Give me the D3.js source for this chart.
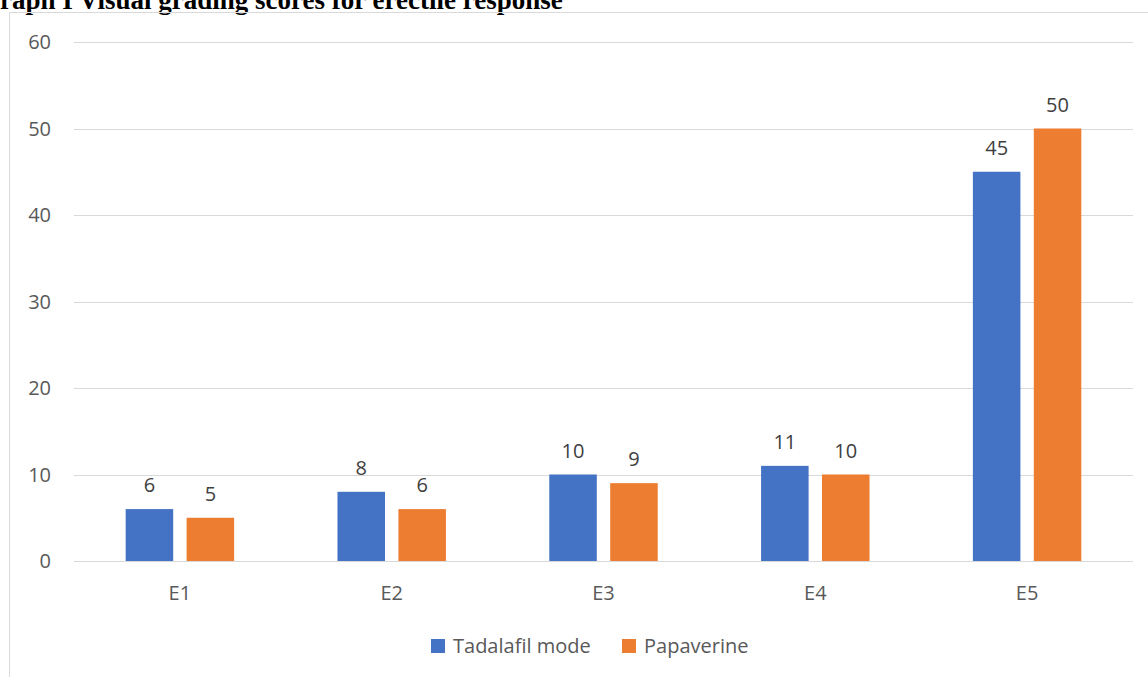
<!DOCTYPE html>
<html>
  <head>
    <title>Graph I</title>
    <script src="https://d3js.org/d3.v7.min.js" charset="utf-8"></script>
    <style>
    body {
        margin: 0;
        background: white;
        font-family: "Open Sans", "Noto Sans", sans-serif;
    }
    svg { display: block; }
    </style>
  </head>

  <body>
    <script>
var categories = ["E1", "E2", "E3", "E4", "E5"];
var seriesNames = ["Tadalafil mode", "Papaverine"];
var tadalafil = [6, 8, 10, 11, 45];
var papaverine = [5, 6, 9, 10, 50];
var yTicks = [0, 10, 20, 30, 40, 50, 60];
var colors = ["#4472c4", "#ed7d31"];

var width = 1148;
var height = 677;

var svg = d3.select("body")
  .append("svg")
  .attr("width", width)
  .attr("height", height);

// title, cut off on the left and top like the scan
svg.append("text")
  .attr("x", -21)
  .attr("y", 9)
  .attr("font-family", "'Liberation Serif', 'Times New Roman', serif")
  .attr("font-weight", "bold")
  .attr("font-size", 27)
  .attr("fill", "#000")
  .text("Graph I Visual grading scores for erectile response");

// chart area frame
svg.append("path")
  .attr("d", "M9.5," + height + "V12.5H" + width)
  .attr("fill", "none")
  .attr("stroke", "#d9d9d9");

var plotLeft = 74, plotRight = 1133, plotTop = 42, plotBottom = 561;

var y = d3.scaleLinear().domain([0, 60]).range([plotBottom, plotTop]);
var x0 = d3.scaleBand().domain(categories).range([plotLeft, plotRight])
  .paddingInner(0.488).paddingOuter(0.244);
var x1 = d3.scaleBand().domain(seriesNames).range([0, x0.bandwidth()])
  .paddingInner(0.22);

// grid
svg.append("g").selectAll("line")
  .data(yTicks)
  .enter()
  .append("line")
  .attr("x1", plotLeft)
  .attr("x2", plotRight)
  .attr("y1", function(d){ return Math.round(y(d)) + 0.5; })
  .attr("y2", function(d){ return Math.round(y(d)) + 0.5; })
  .attr("stroke", "#d9d9d9")
  .attr("stroke-width", 1);

svg.append("g").selectAll("text")
  .data(yTicks)
  .enter()
  .append("text")
  .attr("x", 51)
  .attr("y", function(d){ return y(d); })
  .attr("dy", "0.35em")
  .attr("text-anchor", "end")
  .attr("font-size", 20)
  .attr("fill", "#595959")
  .text(function(d){ return d; });

var rows = categories.map(function(c, i){
  return { cat: c, vals: [tadalafil[i], papaverine[i]] };
});

var groups = svg.append("g").selectAll("g")
  .data(rows)
  .enter()
  .append("g")
  .attr("transform", function(d){ return "translate(" + x0(d.cat) + ",0)"; });

groups.selectAll("rect")
  .data(function(d){ return d.vals.map(function(v, j){ return { name: seriesNames[j], v: v, j: j }; }); })
  .enter()
  .append("rect")
  .attr("x", function(d){ return x1(d.name); })
  .attr("y", function(d){ return y(d.v); })
  .attr("width", x1.bandwidth())
  .attr("height", function(d){ return plotBottom - y(d.v); })
  .attr("fill", function(d){ return colors[d.j]; });

groups.selectAll("text")
  .data(function(d){ return d.vals.map(function(v, j){ return { name: seriesNames[j], v: v }; }); })
  .enter()
  .append("text")
  .attr("x", function(d){ return x1(d.name) + x1.bandwidth() / 2; })
  .attr("y", function(d){ return y(d.v) - 17; })
  .attr("text-anchor", "middle")
  .attr("font-size", 20)
  .attr("fill", "#404040")
  .text(function(d){ return d.v; });

// category labels
svg.append("g").selectAll("text")
  .data(categories)
  .enter()
  .append("text")
  .attr("x", function(d){ return x0(d) + x0.bandwidth() / 2; })
  .attr("y", 600)
  .attr("text-anchor", "middle")
  .attr("font-size", 20)
  .attr("fill", "#595959")
  .text(function(d){ return d; });

// legend
var legendX = [431, 622];
var legend = svg.append("g").selectAll("g")
  .data(seriesNames)
  .enter()
  .append("g")
  .attr("transform", function(d, i){ return "translate(" + legendX[i] + ",639)"; });

legend.append("rect")
  .attr("width", 14)
  .attr("height", 14)
  .attr("fill", function(d, i){ return colors[i]; });

legend.append("text")
  .attr("x", 22)
  .attr("y", 7)
  .attr("dy", "0.35em")
  .attr("font-size", 20)
  .attr("fill", "#595959")
  .text(function(d){ return d; });
    </script>
  </body>
</html>
